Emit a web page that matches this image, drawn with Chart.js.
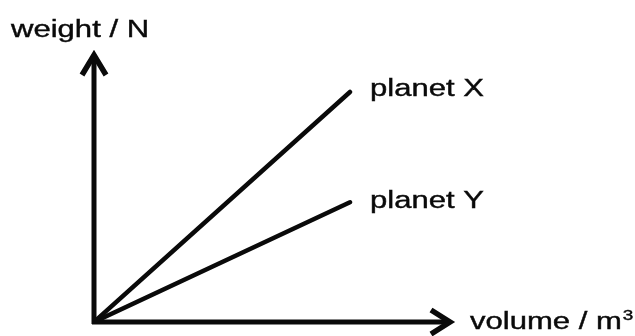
<!DOCTYPE html>
<html>
<head>
<meta charset="utf-8">
<title>weight against volume</title>
<script src="https://cdn.jsdelivr.net/npm/chart.js@4.4.1/dist/chart.umd.min.js"></script>
<style>
    html, body { margin: 0; padding: 0; background: #fff; }
    canvas { display: block; }
</style>
</head>
<body>
<canvas id="weightChart" width="635" height="336"></canvas>
<script>
// === data ===
const volume = [0, 7.15];
const weightX = [0, 8.55];
const weightY = [0, 4.45];
const seriesNames = ["planet X", "planet Y"];
const yAxisTitle = "weight / N";
const xAxisTitle = "volume / m";
const xAxisUnitPower = "3";

const INK = "#0a0a0a";
const FONT = '"Liberation Sans", Arial, sans-serif';
const STRETCH = 1.35;

function toPoints(xs, ys) {
    return xs.map((x, i) => ({ x: x, y: ys[i] }));
}

// text is drawn a bit wide and heavy, like the printed sheet
function stretchedText(ctx, text, x, y, size) {
    ctx.save();
    ctx.translate(x, y);
    ctx.scale(STRETCH, 1);
    ctx.font = size + "px " + FONT;
    ctx.textBaseline = "alphabetic";
    ctx.textAlign = "left";
    ctx.fillStyle = INK;
    ctx.strokeStyle = INK;
    ctx.lineWidth = 0.4;
    ctx.fillText(text, 0, 0);
    ctx.strokeText(text, 0, 0);
    const w = ctx.measureText(text).width * STRETCH;
    ctx.restore();
    return w;
}

// hand drawn style axes with arrow heads, plus the text labels
const sketchAxes = {
    id: "sketchAxes",
    afterDatasetsDraw(chart) {
        const ctx = chart.ctx;
        const xs = chart.scales.x;
        const ys = chart.scales.y;
        const ox = xs.getPixelForValue(0);
        const oy = ys.getPixelForValue(0);
        const tipX = xs.getPixelForValue(xs.max);
        const tipY = ys.getPixelForValue(ys.max);

        ctx.save();
        ctx.strokeStyle = INK;
        ctx.lineWidth = 5;
        ctx.lineCap = "butt";
        ctx.lineJoin = "miter";

        ctx.beginPath();
        ctx.moveTo(ox, oy + 2);
        ctx.lineTo(ox, tipY + 3);
        ctx.moveTo(ox - 2, oy);
        ctx.lineTo(tipX - 3, oy);
        ctx.stroke();

        // arrow heads
        ctx.lineWidth = 5.5;
        ctx.beginPath();
        ctx.moveTo(ox - 12, tipY + 22);
        ctx.lineTo(ox, tipY + 2);
        ctx.lineTo(ox + 12, tipY + 22);
        ctx.moveTo(tipX - 21, oy - 12);
        ctx.lineTo(tipX - 2, oy);
        ctx.lineTo(tipX - 21, oy + 12);
        ctx.stroke();
        ctx.restore();

        // axis titles
        stretchedText(ctx, yAxisTitle, ox - 83, tipY - 16, 23);
        const w = stretchedText(ctx, xAxisTitle, tipX + 18, oy + 7, 23);
        stretchedText(ctx, xAxisUnitPower, tipX + 18 + w + 1, oy - 2, 14);

        // series names next to the line ends
        chart.data.datasets.forEach((ds, i) => {
            const meta = chart.getDatasetMeta(i);
            const last = meta.data[meta.data.length - 1];
            stretchedText(ctx, seriesNames[i], last.x + 20, last.y + 4 + i * 2, 23);
        });
    }
};

const weightChart = new Chart(document.getElementById("weightChart"), {
    type: "scatter",
    data: {
        datasets: [
            { label: seriesNames[0], data: toPoints(volume, weightX) },
            { label: seriesNames[1], data: toPoints(volume, weightY) }
        ].map(ds => Object.assign(ds, {
            showLine: true,
            borderColor: INK,
            borderWidth: 4.5,
            borderCapStyle: "round",
            pointRadius: 0,
            pointHoverRadius: 0
        }))
    },
    options: {
        responsive: false,
        animation: false,
        events: [],
        layout: { padding: { left: 94, top: 53, right: 183, bottom: 14 } },
        plugins: {
            legend: { display: false },
            title: { display: false },
            tooltip: { enabled: false }
        },
        scales: {
            x: { type: "linear", min: 0, max: 10, display: false },
            y: { type: "linear", min: 0, max: 10, display: false }
        }
    },
    plugins: [sketchAxes]
});
</script>
</body>
</html>
